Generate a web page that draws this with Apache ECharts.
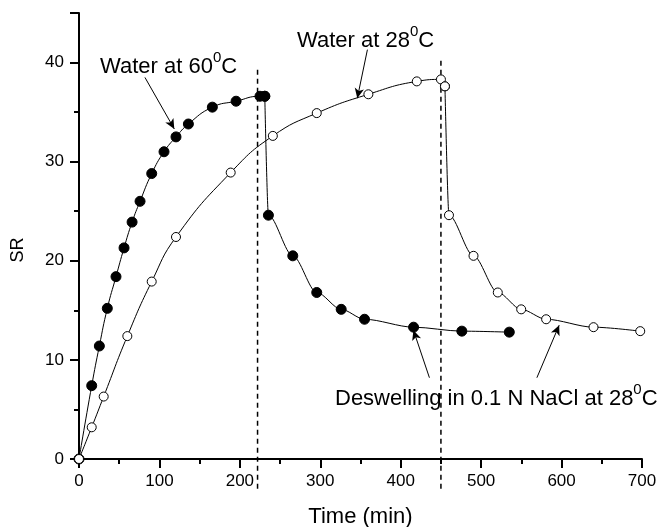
<!DOCTYPE html>
<html>
<head>
<meta charset="utf-8">
<script src="https://cdn.jsdelivr.net/npm/echarts@6/dist/echarts.min.js"></script>
<style>
  html, body { margin: 0; padding: 0; background: #fff; }
  #chart { width: 659px; height: 527px; }
</style>
</head>
<body>
<div id="chart"></div>
<script>
// swelling / deswelling, gel at 60C then NaCl
const hot_swell = [[0, 0], [15.8, 7.4], [25.3, 11.4], [35.2, 15.2], [46, 18.4], [56, 21.3], [66, 23.9], [75.9, 26.0],
  [90.4, 28.8], [105.7, 31.0], [120.6, 32.5], [136, 33.8], [165.8, 35.5], [195.3, 36.1], [225, 36.6], [231, 36.6]]
const hot_deswell = [[231, 36.6], [235.5, 24.6], [265.8, 20.5], [295.6, 16.8], [326, 15.1], [355, 14.1],
  [416, 13.3], [476, 12.9], [535, 12.8]]
// gel at 28C then NaCl
const cold_swell = [[0, 0], [15.8, 3.2], [30.7, 6.3], [60.1, 12.4], [90.4, 17.9], [120.6, 22.4], [188.6, 28.9],
  [241, 32.6], [295.6, 34.9], [359.8, 36.8], [420, 38.1], [450, 38.3], [455, 37.6]]
const cold_deswell = [[455, 37.6], [460, 24.6], [490.5, 20.5], [520.7, 16.8], [549.8, 15.1], [580.8, 14.1],
  [639.7, 13.3], [697.8, 12.9]]
// medium change times
const switch_lines = [[[222, -3], [222, 39.5]], [[450, -3], [450, 40.2]]]
// annotation arrows [tail, head]
const arrows = [
  [[82, 38.5], [118.5, 33.3]],
  [[358.6, 41.3], [346, 36.4]],
  [[435.7, 8.2], [415.8, 13.0]],
  [[569.3, 8.2], [597, 13.5]]
]

const chart = echarts.init(document.getElementById('chart'))

const font = 'Liberation Sans'
const axisCommon = {
  axisLine: { lineStyle: { color: '#000', width: 2 } },
  axisTick: { length: 9, lineStyle: { color: '#000', width: 2 } },
  minorTick: { show: true, splitNumber: 2, length: 5, lineStyle: { color: '#000', width: 2 } },
  splitLine: { show: false },
  axisLabel: { color: '#000', fontSize: 17, fontFamily: font }
}

const lbl = {
  a: { fontSize: 22, fontFamily: font, color: '#000', lineHeight: 28, verticalAlign: 'bottom' },
  s: { fontSize: 15, fontFamily: font, color: '#000', lineHeight: 15, verticalAlign: 'top' }
}

function lineSeries(data, filled, mono) {
  return {
    type: 'line',
    data: data,
    smooth: mono ? 0.3 : 0.5,
    smoothMonotone: mono ? 'x' : null,
    symbol: 'circle',
    symbolSize: filled ? 10 : 9,
    showSymbol: true,
    itemStyle: { color: filled ? '#000' : '#fff', borderColor: '#000', borderWidth: 1 },
    lineStyle: { color: '#000', width: 1 },
    z: 3,
    animation: false
  }
}

chart.setOption({
  animation: false,
  grid: { left: 79, right: 17, top: 13, bottom: 68, containLabel: false, outerBoundsMode: 'none' },
  xAxis: Object.assign({}, axisCommon, {
    type: 'value', min: 0, max: 700, interval: 100,
    name: 'Time (min)', nameLocation: 'middle', nameGap: 47,
    nameTextStyle: { color: '#000', fontSize: 22, fontFamily: font },
    axisLabel: Object.assign({}, axisCommon.axisLabel, { margin: 14 })
  }),
  yAxis: Object.assign({}, axisCommon, {
    type: 'value', min: 0, max: 45, interval: 10,
    name: 'SR', nameLocation: 'middle', nameGap: 52,
    nameTextStyle: { color: '#000', fontSize: 18, fontFamily: font, padding: [0, 28, 0, 0] },
    axisLabel: Object.assign({}, axisCommon.axisLabel, { margin: 15, showMaxLabel: false })
  }),
  series: [
    lineSeries(hot_swell, true, false),
    lineSeries(hot_deswell, true, true),
    lineSeries(cold_swell, false, false),
    lineSeries(cold_deswell, false, true),
    {
      type: 'line',
      data: [],
      silent: true,
      markLine: {
        silent: true,
        animation: false,
        symbol: ['none', 'arrow'],
        symbolSize: [7, 10],
        label: { show: false },
        lineStyle: { color: '#000', width: 1, type: 'solid' },
        data: arrows.map(a => [{ coord: a[0] }, { coord: a[1] }])
      }
    }
  ].concat(switch_lines.map(d => ({
    type: 'line',
    data: d,
    clip: false,
    symbol: 'none',
    lineStyle: { color: '#000', width: 1.5, type: [5, 4] },
    z: 2,
    animation: false
  }))),
  graphic: [
    { type: 'text', left: 100, top: 50, style: { text: '{a|Water at 60}{s|0}{a|C}', rich: lbl } },
    { type: 'text', left: 297, top: 24, style: { text: '{a|Water at 28}{s|0}{a|C}', rich: lbl } },
    { type: 'text', left: 335, top: 382, style: { text: '{a|Deswelling in 0.1 N NaCl at 28}{s|0}{a|C}', rich: lbl } }
  ]
})
</script>
</body>
</html>
